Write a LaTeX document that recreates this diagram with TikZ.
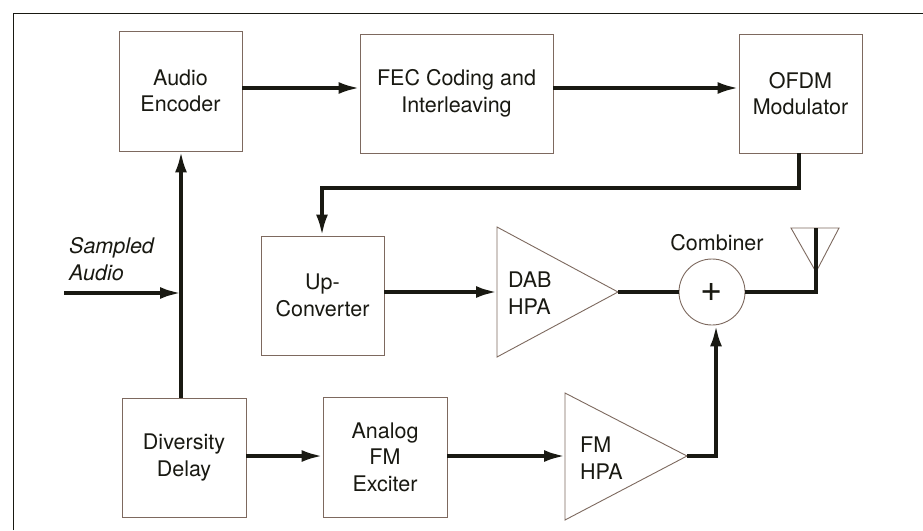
\documentclass[tikz,border=0pt]{standalone}
\usepackage{fontspec}
\setmainfont{TeX Gyre Heros}
\usetikzlibrary{arrows.meta}
\definecolor{boxc}{RGB}{125,105,95}
\definecolor{inkc}{RGB}{25,25,18}
\tikzset{
  blk/.style={draw=boxc, line width=0.9pt, fill=white, minimum width=123pt, minimum height=120pt, align=center, inner sep=0pt, font=\fontsize{21.5}{26.5}\selectfont, text=inkc},
  lbl/.style={align=left, inner sep=0pt, font=\fontsize{21.5}{26.5}\selectfont, text=inkc},
  flow/.style={draw=inkc, line width=3.6pt, -{Latex[length=21pt,width=12pt]}},
  wire/.style={draw=inkc, line width=3.6pt},
  tri/.style={draw=boxc, line width=0.9pt},
}
\begin{document}
\begin{tikzpicture}[x=1pt,y=-1pt]
\useasboundingbox[fill=white] (0,0) rectangle (923,530);
% frame
\draw[inkc, line width=1pt] (13,530) -- (13,13) -- (923,13);
% boxes
\node[blk] (ae) at (180.5,91) {Audio\\Encoder};
\node[blk, minimum width=193pt, minimum height=119pt] (fec) at (456.5,93.5) {FEC Coding and\\Interleaving};
\node[blk, minimum height=119pt] (ofdm) at (800.5,93.5) {OFDM\\Modulator};
\node[blk, minimum height=119pt] (up) at (322.5,295.5) {Up-\\Converter};
\node[blk, minimum width=124pt, minimum height=119pt] (dd) at (184,457.5) {Diversity\\Delay};
\node[blk, minimum width=124pt, minimum height=120pt] (afe) at (385,457) {Analog\\FM\\Exciter};
% amplifiers
\coordinate (dabin) at (497,292);
\coordinate (dabout) at (618,292);
\coordinate (fmin) at (565,456);
\coordinate (fmout) at (687,456);
\draw[tri] (497,227) -- (dabout) -- (497,357) -- cycle;
\draw[tri] (565,393) -- (fmout) -- (565,520) -- cycle;
\node[lbl, anchor=west] (dab) at (508,293) {DAB\\HPA};
\node[lbl, anchor=west] (fm) at (580,458) {FM\\HPA};
% combiner
\node[draw=boxc, line width=0.9pt, circle, minimum size=66pt, inner sep=0pt, font=\fontsize{38}{38}\selectfont, text=inkc] (comb) at (712,292) {+};
\node[lbl, anchor=center] (combl) at (717,243) {Combiner};
% antenna
\coordinate (antbase) at (816,292);
\coordinate (anttop) at (816,228);
\draw[tri] (791,228) -- (839,228) -- (816,272) -- cycle;
% sampled audio
\node[lbl, anchor=west, font=\fontsize{21.5}{27}\selectfont\itshape] (sa) at (69,259) {Sampled\\Audio};
\coordinate (sain) at (64,293);
\coordinate (tap) at (181,293);
% connectors
\draw[flow] (ae.east |- 0,88) -- (fec.west |- 0,88);
\draw[flow] (fec.east |- 0,88) -- (ofdm.west |- 0,88);
\draw[flow] (ofdm.south -| 799,0) -- (799,188) -- (322,188) -- (up.north -| 322,0);
\draw[flow] (sain) -- (tap);
\draw[flow] (dd.north -| 181,0) -- (ae.south -| 181,0);
\draw[flow] (up.east |- dabin) -- (dabin);
\draw[flow] (dd.east |- fmin) -- (afe.west |- fmin);
\draw[flow] (afe.east |- fmin) -- (fmin);
\draw[wire] (dabout) -- (comb.west);
\draw[flow] (fmout) -- (716,456) -- (comb.south -| 716,0);
\draw[wire] (comb.east) -- (antbase) -- (anttop);
\end{tikzpicture}
\end{document}
